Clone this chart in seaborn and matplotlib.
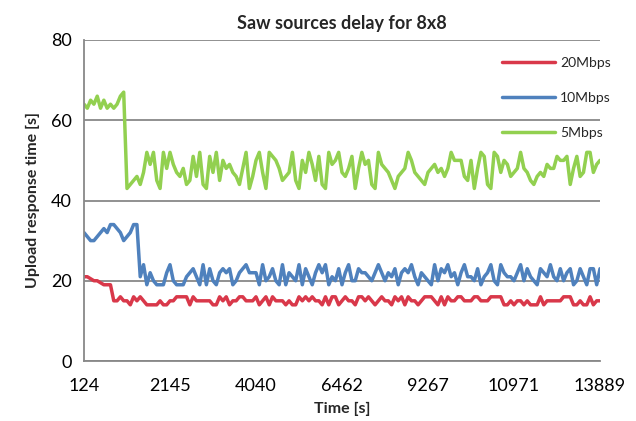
import numpy as np
import pandas as pd
import matplotlib
matplotlib.use("Agg")
import matplotlib.pyplot as plt
import seaborn as sns

time_labels = ["124", "2145", "4040", "6462", "9267", "10971", "13889"]
label_step = 26

red_20mbps = [
    21, 21, 20.5, 20, 20, 19.5, 19, 19, 19,
    15, 15, 16, 15, 15, 14, 16, 15, 16, 15,
    14, 14, 14, 14, 15, 14, 14, 15, 15, 16,
    16, 16, 16, 14, 16, 15, 15, 15, 15, 15,
    14, 14, 16, 15, 16, 14, 15, 15, 16, 16,
    15, 15, 15, 16, 14, 15, 16, 14, 16, 15,
    15, 15, 14, 15, 14, 14, 16, 15, 16, 15,
    16, 15, 15, 14, 16, 14, 16, 16, 14, 15,
    16, 15, 15, 14, 16, 16, 15, 16, 15, 14,
    15, 16, 15, 15, 14, 16, 15, 16, 14, 16,
    15, 15, 14, 15, 16, 16, 16, 15, 14, 16,
    14, 16, 15, 15, 16, 16, 15, 15, 15, 16,
    16, 15, 15, 15, 16, 16, 16, 16, 14, 14,
    15, 14, 15, 15, 14, 15, 14, 14, 14, 16,
    14, 15, 15, 15, 15, 15, 16, 16, 16, 14,
    14, 15, 14, 14, 16, 14, 15, 15,
]

blue_10mbps = [
    32, 31, 30, 30, 31, 32, 33, 32, 34, 34, 33, 32, 30, 31, 32, 34, 34,
    21, 24, 19, 22, 20, 19, 19, 19, 22, 24,
    20, 19, 19, 19, 21, 22, 23, 21, 19, 24,
    19, 23, 20, 19, 22, 23, 22, 23, 19, 20,
    22, 23, 24, 22, 22, 22, 19, 24, 20, 21,
    23, 20, 19, 24, 19, 22, 21, 20, 24, 19,
    23, 21, 19, 22, 24, 22, 24, 19, 21, 20,
    23, 19, 22, 24, 20, 20, 23, 22, 22, 21,
    20, 22, 24, 22, 20, 22, 21, 23, 19, 22,
    23, 22, 24, 21, 19, 22, 21, 20, 19, 24,
    20, 23, 22, 24, 21, 22, 19, 22, 24, 21,
    21, 20, 23, 19, 21, 22, 24, 20, 19, 24,
    22, 21, 21, 20, 22, 24, 20, 23, 21, 20,
    19, 23, 22, 21, 24, 21, 20, 23, 20, 22,
    23, 19, 20, 23, 21, 19, 23, 23, 19, 23,
]

green_5mbps = [
    64, 63, 65, 64, 66, 63, 65, 63, 64, 63, 64, 66, 67,
    43, 44, 45, 46, 44, 47, 52, 49, 52, 45,
    43, 52, 48, 52, 49, 47, 46, 48, 44, 45,
    51, 46, 52, 44, 43, 51, 47, 52, 45, 50,
    48, 49, 47, 46, 44, 48, 52, 43, 46, 50,
    52, 47, 43, 52, 51, 50, 48, 45, 46, 47,
    52, 45, 43, 50, 47, 52, 49, 45, 51, 44,
    43, 52, 49, 50, 52, 47, 46, 48, 51, 43,
    48, 52, 49, 50, 44, 43, 52, 49, 48, 47,
    45, 43, 46, 47, 48, 52, 50, 47, 46, 45,
    44, 47, 48, 49, 47, 48, 46, 48, 52, 50,
    50, 50, 46, 45, 50, 43, 48, 52, 51, 44,
    43, 52, 51, 47, 50, 49, 46, 47, 48, 52,
    48, 47, 45, 44, 46, 47, 46, 49, 48, 48,
    51, 50, 50, 51, 44, 48, 51, 46, 47, 52,
    52, 47, 49, 50,
]

series_names = ["20Mbps", "10Mbps", "5Mbps"]
series_values = [red_20mbps, blue_10mbps, green_5mbps]
colors = ["#D9384A", "#4F81BD", "#92D050"]

frames = []
for name, vals in zip(series_names, series_values):
    frames.append(pd.DataFrame({"idx": np.arange(len(vals)), "value": vals, "series": name}))
df = pd.concat(frames, ignore_index=True)

sns.set_theme(style="white")
plt.rcParams["font.family"] = ["Lato", "DejaVu Sans"]

fig = plt.figure(figsize=(6.36, 4.21), dpi=100)
ax = fig.add_axes([84 / 636, 1 - 361 / 421, 516 / 636, 321 / 421])

sns.lineplot(data=df, x="idx", y="value", hue="series", hue_order=series_names,
             palette=colors, linewidth=2.5, ax=ax, legend=True)

n = len(red_20mbps)
ax.set_xlim(0, n - 1)
ax.set_ylim(0, 80)
ax.set_yticks([0, 20, 40, 60, 80])
ax.set_xticks(np.arange(0, n, label_step)[:len(time_labels)])
ax.set_xticklabels(time_labels)

gc = "#888888"
ax.yaxis.grid(True, color=gc, linewidth=1.3)
ax.xaxis.grid(False)
ax.set_axisbelow(True)
for s in ["top", "right"]:
    ax.spines[s].set_visible(False)
for s in ["left", "bottom"]:
    ax.spines[s].set_color(gc)
    ax.spines[s].set_linewidth(1.3)
ax.tick_params(axis="both", which="both", direction="out", length=5, width=1.3,
               color=gc, labelsize=13, labelcolor="black", pad=4)
ax.tick_params(axis="x", pad=7)

ax.set_title("Saw sources delay for 8x8", fontsize=13, fontweight="bold", pad=8)
ax.set_xlabel("Time [s]", fontsize=11.5, fontweight="bold", labelpad=6)
ax.set_ylabel("Upload response time [s]", fontsize=11.5, fontweight="bold", labelpad=8)

handles, labels = ax.get_legend_handles_labels()
ax.legend(handles, labels, loc="upper left", bbox_to_anchor=(0.81, 0.948),
          frameon=False, fontsize=10, handlelength=3.8, handletextpad=0.4,
          labelspacing=1.68, borderpad=0, borderaxespad=0)

fig.savefig("out.png", dpi=100)
